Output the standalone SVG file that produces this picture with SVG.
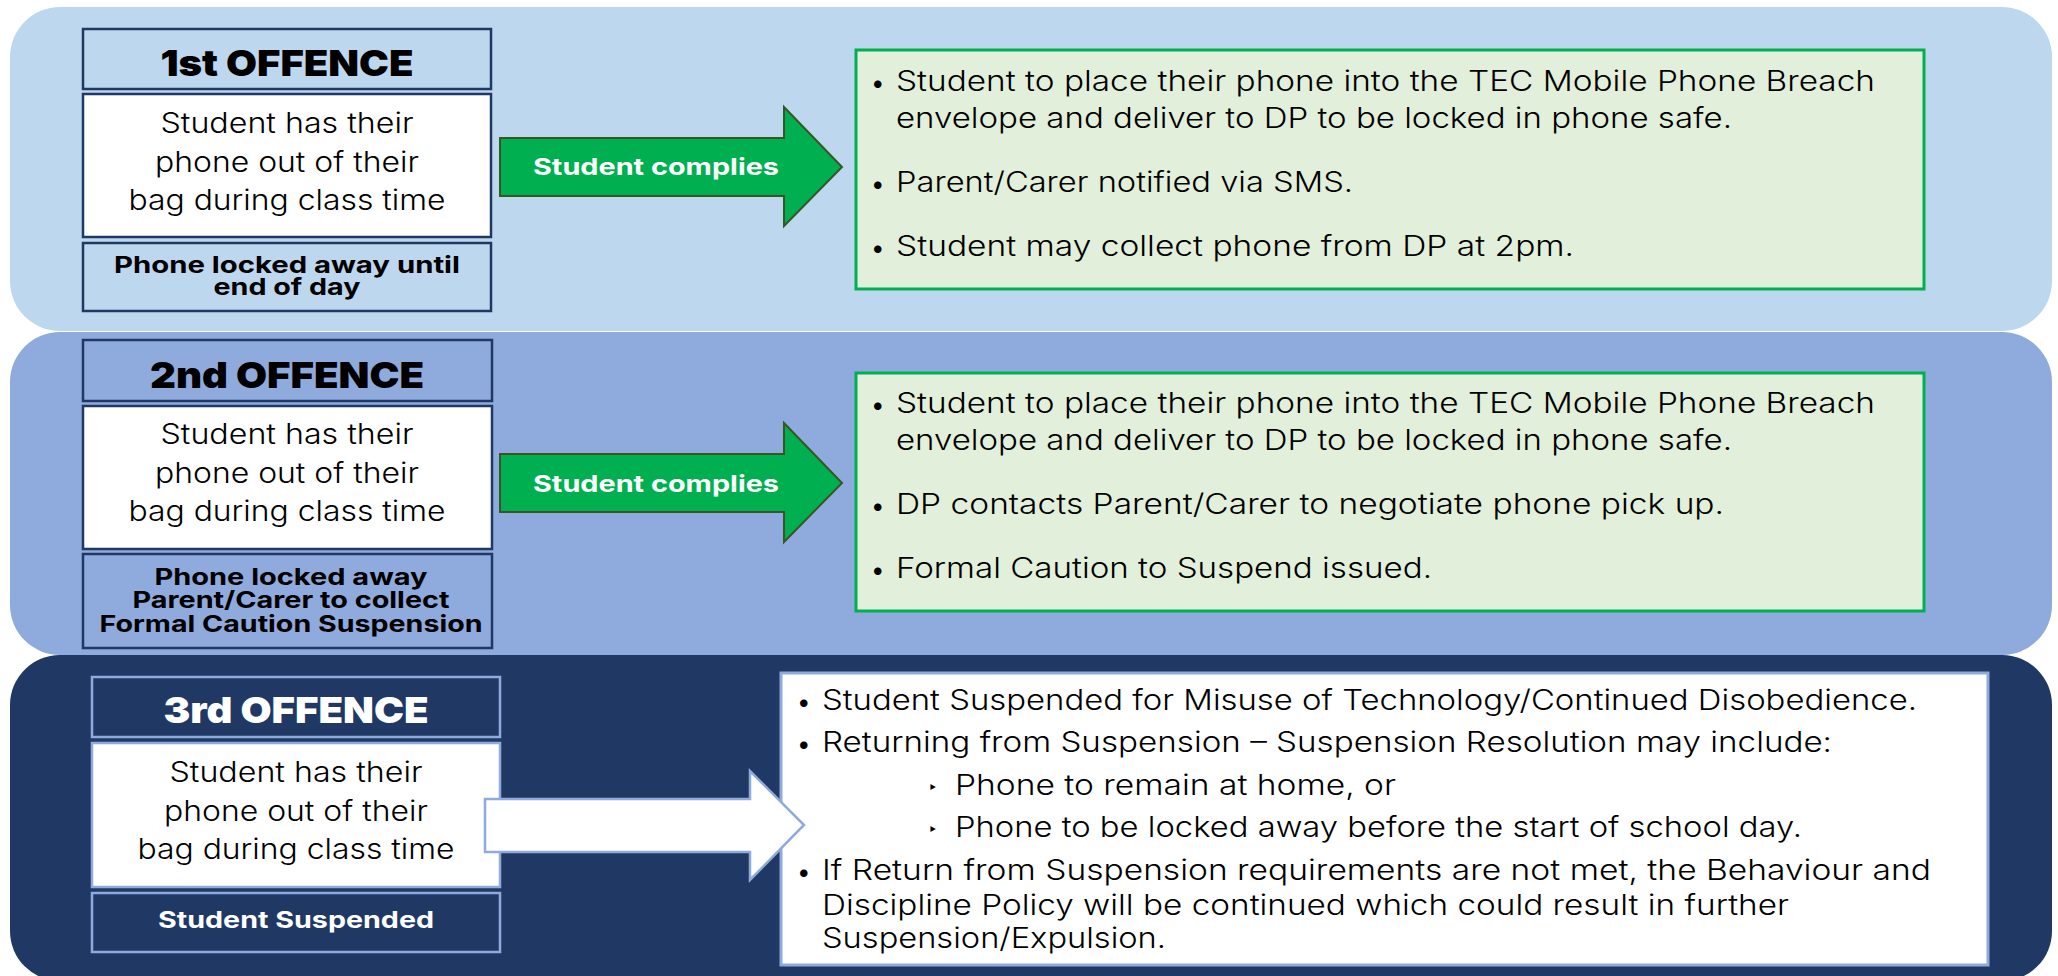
<svg xmlns="http://www.w3.org/2000/svg" width="2058" height="976" viewBox="0 0 2058 976">
<style>
.band1{fill:#BDD7EE}
.band2{fill:#8FAADC}
.band3{fill:#203864}
.b12{stroke:#203864;stroke-width:2.5}
.b3{stroke:#8FAADC;stroke-width:2.5}
.white{fill:#FFFFFF}
.green{fill:#E2EFDA;stroke:#00B050;stroke-width:3}
.head{font-family:Inter,"Liberation Sans",sans-serif;font-weight:900;font-size:36px;text-anchor:middle}
.body{font-family:Inter,"Liberation Sans",sans-serif;font-weight:300;font-size:28px;fill:#000}
.mid{text-anchor:middle}
.bold{font-family:Inter,"Liberation Sans",sans-serif;font-weight:700;font-size:23px;text-anchor:middle}
.bul{font-family:Inter,"Liberation Sans",sans-serif;font-size:24px;fill:#000}
.sub{font-family:"DejaVu Sans",sans-serif;font-size:16px;fill:#000}
.garrow{fill:#00B050;stroke:#375623;stroke-width:2}
.warrow{fill:#FFFFFF;stroke:#8FAADC;stroke-width:2.5}
</style>

<g id="band-1"><rect x="10" y="7" width="2042" height="324" rx="50" ry="50" class="band1"/></g>
<g id="band-2"><rect x="10" y="332" width="2042" height="323" rx="50" ry="50" class="band2"/></g>
<g id="band-3"><rect x="10" y="655" width="2042" height="326" rx="50" ry="50" class="band3"/></g>

<g id="offence-1-header">
<rect x="83" y="29" width="408" height="60" class="band1 b12"/>
<text x="287" y="76" class="head" fill="#000" textLength="253" lengthAdjust="spacingAndGlyphs">1st OFFENCE</text>
</g>
<g id="offence-1-desc">
<rect x="83" y="94" width="408" height="143" class="white b12"/>
<text class="body mid"><tspan x="287" y="133" textLength="253" lengthAdjust="spacingAndGlyphs">Student has their</tspan><tspan x="287" y="172" textLength="264" lengthAdjust="spacingAndGlyphs">phone out of their</tspan><tspan x="287" y="210" textLength="317" lengthAdjust="spacingAndGlyphs">bag during class time</tspan></text>
</g>
<g id="offence-1-outcome">
<rect x="83" y="243" width="408" height="68" class="band1 b12"/>
<text class="bold" fill="#000"><tspan x="287" y="273" textLength="346" lengthAdjust="spacingAndGlyphs">Phone locked away until</tspan><tspan x="287" y="295" textLength="147" lengthAdjust="spacingAndGlyphs">end of day</tspan></text>
</g>
<g id="offence-1-actions">
<rect x="856" y="50" width="1068" height="239" class="green"/>
<text x="871" y="91" class="bul">•</text>
<text x="896" y="91" class="body" textLength="979" lengthAdjust="spacingAndGlyphs">Student to place their phone into the TEC Mobile Phone Breach</text>
<text x="896" y="128" class="body" textLength="836" lengthAdjust="spacingAndGlyphs">envelope and deliver to DP to be locked in phone safe.</text>
<text x="871" y="192" class="bul">•</text>
<text x="896" y="192" class="body" textLength="457" lengthAdjust="spacingAndGlyphs">Parent/Carer notified via SMS.</text>
<text x="871" y="256" class="bul">•</text>
<text x="896" y="256" class="body" textLength="678" lengthAdjust="spacingAndGlyphs">Student may collect phone from DP at 2pm.</text>
</g>

<g id="offence-2-header">
<rect x="83" y="340" width="409" height="61" class="band2 b12"/>
<text x="287" y="388" class="head" fill="#000" textLength="274" lengthAdjust="spacingAndGlyphs">2nd OFFENCE</text>
</g>
<g id="offence-2-desc">
<rect x="83" y="406" width="409" height="143" class="white b12"/>
<text class="body mid"><tspan x="287" y="444" textLength="253" lengthAdjust="spacingAndGlyphs">Student has their</tspan><tspan x="287" y="483" textLength="264" lengthAdjust="spacingAndGlyphs">phone out of their</tspan><tspan x="287" y="521" textLength="317" lengthAdjust="spacingAndGlyphs">bag during class time</tspan></text>
</g>
<g id="offence-2-outcome">
<rect x="83" y="554" width="409" height="94" class="band2 b12"/>
<text class="bold" fill="#000"><tspan x="291" y="585" textLength="273" lengthAdjust="spacingAndGlyphs">Phone locked away</tspan><tspan x="291" y="608" textLength="317" lengthAdjust="spacingAndGlyphs">Parent/Carer to collect</tspan><tspan x="291" y="632" textLength="383" lengthAdjust="spacingAndGlyphs">Formal Caution Suspension</tspan></text>
</g>
<g id="offence-2-actions">
<rect x="856" y="373" width="1068" height="238" class="green"/>
<text x="871" y="413" class="bul">•</text>
<text x="896" y="413" class="body" textLength="979" lengthAdjust="spacingAndGlyphs">Student to place their phone into the TEC Mobile Phone Breach</text>
<text x="896" y="450" class="body" textLength="836" lengthAdjust="spacingAndGlyphs">envelope and deliver to DP to be locked in phone safe.</text>
<text x="871" y="514" class="bul">•</text>
<text x="896" y="514" class="body" textLength="828" lengthAdjust="spacingAndGlyphs">DP contacts Parent/Carer to negotiate phone pick up.</text>
<text x="871" y="578" class="bul">•</text>
<text x="896" y="578" class="body" textLength="536" lengthAdjust="spacingAndGlyphs">Formal Caution to Suspend issued.</text>
</g>

<g id="offence-3-header">
<rect x="92" y="677" width="408" height="60" class="band3 b3"/>
<text x="296" y="723" class="head" fill="#FFFFFF" textLength="265" lengthAdjust="spacingAndGlyphs">3rd OFFENCE</text>
</g>
<g id="offence-3-desc">
<rect x="92" y="743" width="408" height="144" class="white b3"/>
<text class="body mid"><tspan x="296" y="782" textLength="253" lengthAdjust="spacingAndGlyphs">Student has their</tspan><tspan x="296" y="821" textLength="264" lengthAdjust="spacingAndGlyphs">phone out of their</tspan><tspan x="296" y="859" textLength="317" lengthAdjust="spacingAndGlyphs">bag during class time</tspan></text>
</g>
<g id="offence-3-outcome">
<rect x="92" y="893" width="408" height="59" class="band3 b3"/>
<text x="296" y="928" class="bold" fill="#FFFFFF" textLength="276" lengthAdjust="spacingAndGlyphs">Student Suspended</text>
</g>
<g id="offence-3-actions">
<rect x="781" y="673" width="1207" height="292" class="white" stroke="#8FAADC" stroke-width="3"/>
<text x="797" y="710" class="bul">•</text>
<text x="822" y="710" class="body" textLength="1095" lengthAdjust="spacingAndGlyphs">Student Suspended for Misuse of Technology/Continued Disobedience.</text>
<text x="797" y="752" class="bul">•</text>
<text x="822" y="752" class="body" textLength="1010" lengthAdjust="spacingAndGlyphs">Returning from Suspension – Suspension Resolution may include:</text>
<text x="928" y="793" class="sub">‣</text>
<text x="955" y="795" class="body" textLength="441" lengthAdjust="spacingAndGlyphs">Phone to remain at home, or</text>
<text x="928" y="835" class="sub">‣</text>
<text x="955" y="837" class="body" textLength="847" lengthAdjust="spacingAndGlyphs">Phone to be locked away before the start of school day.</text>
<text x="797" y="880" class="bul">•</text>
<text x="822" y="880" class="body" textLength="1109" lengthAdjust="spacingAndGlyphs">If Return from Suspension requirements are not met, the Behaviour and</text>
<text x="822" y="915" class="body" textLength="967" lengthAdjust="spacingAndGlyphs">Discipline Policy will be continued which could result in further</text>
<text x="822" y="948" class="body" textLength="344" lengthAdjust="spacingAndGlyphs">Suspension/Expulsion.</text>
</g>

<g id="connectors">
<g id="arrow-1">
<path d="M500,138 H784 V107 L842,167 L784,226 V196 H500 Z" class="garrow"/>
<text x="656" y="175" class="bold" fill="#FFFFFF" textLength="246" lengthAdjust="spacingAndGlyphs">Student complies</text>
</g>
<g id="arrow-2">
<path d="M500,454 H784 V423 L842,483 L784,542 V512 H500 Z" class="garrow"/>
<text x="656" y="492" class="bold" fill="#FFFFFF" textLength="246" lengthAdjust="spacingAndGlyphs">Student complies</text>
</g>
<g id="arrow-3">
<path d="M485,799 H750 V771 L804,825 L750,880 V852 H485 Z" class="warrow"/>
</g>
</g>
</svg>
